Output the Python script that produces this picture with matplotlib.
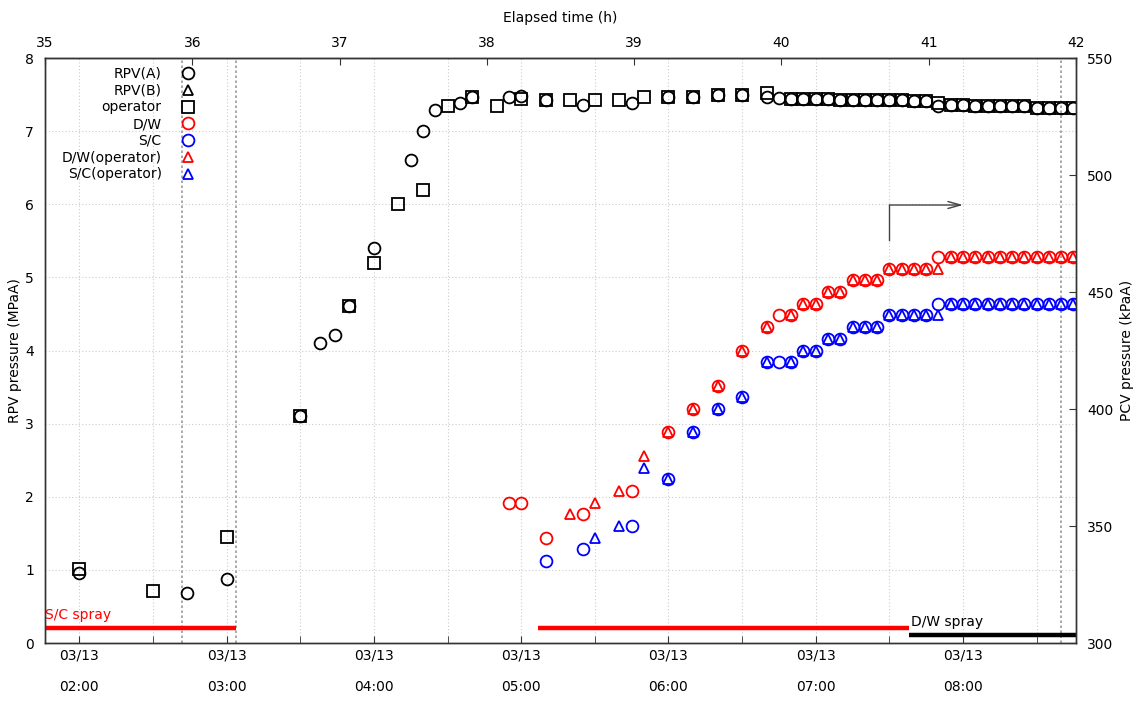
import matplotlib
matplotlib.use("Agg")
import matplotlib.pyplot as plt

plt.rcParams['font.family'] = ['DejaVu Sans']
plt.rcParams['font.size'] = 10

# elapsed hours at 03/13 00:00 (counted from 03/11 14:46)
OFFSET = 33 + 14 / 60


def hm(s):
    h, m = s.split(':')
    return int(h) + int(m) / 60


# 5-minute readings from 06:50 onwards (shared by all series)
late_times = ["06:50", "06:55", "07:00", "07:05", "07:10", "07:15", "07:20", "07:25",
              "07:30", "07:35", "07:40", "07:45", "07:50", "07:55", "08:00", "08:05",
              "08:10", "08:15", "08:20", "08:25", "08:30", "08:35", "08:40", "08:45"]

# RPV pressure (MPaA)
rpv_a_time = ["02:00", "02:44", "03:00", "03:30", "03:38", "03:44", "03:50", "04:00",
              "04:15", "04:20", "04:25", "04:35", "04:40", "04:55", "05:00", "05:10",
              "05:25", "05:45", "06:00", "06:10", "06:20", "06:30", "06:40", "06:45"] + late_times
rpv_a_mpa = [0.96, 0.69, 0.88, 3.10, 4.10, 4.21, 4.61, 5.40,
             6.60, 7.00, 7.29, 7.39, 7.47, 7.47, 7.48, 7.43,
             7.36, 7.39, 7.47, 7.47, 7.50, 7.49, 7.47, 7.45,
             7.44, 7.44, 7.44, 7.44, 7.43, 7.43, 7.43, 7.43,
             7.43, 7.43, 7.41, 7.41, 7.35, 7.36, 7.36, 7.34,
             7.34, 7.34, 7.34, 7.34, 7.31, 7.31, 7.31, 7.31]

rpv_b_time = []
rpv_b_mpa = []

operator_time = ["02:00", "02:30", "03:00", "03:30", "03:50", "04:00", "04:10", "04:20",
                 "04:30", "04:40", "04:50", "05:00", "05:10", "05:20", "05:30", "05:40",
                 "05:50", "06:00", "06:10", "06:20", "06:30", "06:40"] + late_times
operator_mpa = [1.01, 0.71, 1.45, 3.10, 4.61, 5.20, 6.00, 6.20,
                7.34, 7.47, 7.34, 7.44, 7.43, 7.42, 7.43, 7.43,
                7.47, 7.47, 7.47, 7.50, 7.49, 7.52,
                7.44, 7.44, 7.44, 7.44, 7.43, 7.43, 7.43, 7.43,
                7.42, 7.42, 7.41, 7.41, 7.38, 7.36, 7.36, 7.34,
                7.34, 7.34, 7.34, 7.34, 7.32, 7.32, 7.31, 7.31]

# PCV pressure (kPaA)
dw_time = ["04:55", "05:00", "05:10", "05:25", "05:45", "06:00", "06:10", "06:20",
           "06:30", "06:40", "06:45"] + late_times
dw_kpa = [360, 360, 345, 355, 365, 390, 400, 410, 425, 435, 440,
          440, 445, 445, 450, 450, 455, 455, 455, 460, 460, 460, 460,
          465, 465, 465, 465, 465, 465, 465, 465, 465, 465, 465, 465]

sc_time = ["05:10", "05:25", "05:45", "06:00", "06:10", "06:20", "06:30", "06:40",
           "06:45"] + late_times
sc_kpa = [335, 340, 350, 370, 390, 400, 405, 420, 420,
          420, 425, 425, 430, 430, 435, 435, 435, 440, 440, 440, 440,
          445, 445, 445, 445, 445, 445, 445, 445, 445, 445, 445, 445]

dw_op_time = ["05:20", "05:30", "05:40", "05:50", "06:00", "06:10", "06:20", "06:30",
              "06:40"] + late_times
dw_op_kpa = [355, 360, 365, 380, 390, 400, 410, 425, 435,
             440, 445, 445, 450, 450, 455, 455, 455, 460, 460, 460, 460,
             460, 465, 465, 465, 465, 465, 465, 465, 465, 465, 465, 465]

sc_op_time = ["05:30", "05:40", "05:50", "06:00", "06:10", "06:20", "06:30",
              "06:40"] + late_times
sc_op_kpa = [345, 350, 375, 370, 390, 400, 405, 420,
             420, 425, 425, 430, 430, 435, 435, 435, 440, 440, 440, 440,
             440, 445, 445, 445, 445, 445, 445, 445, 445, 445, 445, 445]

# spray periods and event markers
sc_spray = [("01:46", "03:04"), ("05:07", "07:38")]
dw_spray = ("07:38", "08:46")
event_times = ["02:42", "03:04", "08:40"]

clock_ticks = ["02:00", "03:00", "04:00", "05:00", "06:00", "07:00", "08:00"]
half_ticks = ["02:30", "03:30", "04:30", "05:30", "06:30", "07:30", "08:30"]
elapsed_ticks = [35, 36, 37, 38, 39, 40, 41, 42]


def tl(lst):
    return [hm(s) for s in lst]


fig = plt.figure(figsize=(11.37, 7.06), dpi=100)
ax = fig.add_axes([0.0396, 0.0892, 0.9067, 0.8286])
ax2 = ax.twinx()

kw = dict(linestyle='none', mfc='none', markersize=8.5, markeredgewidth=1.3)

h_a, = ax.plot(tl(rpv_a_time), rpv_a_mpa, marker='o', mec='black', label='RPV(A)', **kw)
h_b, = ax.plot(tl(rpv_b_time), rpv_b_mpa, marker='^', mec='black', label='RPV(B)',
               **dict(kw, markersize=7.5))
h_op, = ax.plot(tl(operator_time), operator_mpa, marker='s', mec='black', label='operator',
                **dict(kw, markersize=8))

h_dw, = ax2.plot(tl(dw_time), dw_kpa, marker='o', mec='red', label='D/W', **kw)
h_sc, = ax2.plot(tl(sc_time), sc_kpa, marker='o', mec='blue', label='S/C', **kw)
h_dwo, = ax2.plot(tl(dw_op_time), dw_op_kpa, marker='^', mec='red', label='D/W(operator)',
                  **dict(kw, markersize=7.5))
h_sco, = ax2.plot(tl(sc_op_time), sc_op_kpa, marker='^', mec='blue', label='S/C(operator)',
                  **dict(kw, markersize=7.5))

# spray bars
for a, b in sc_spray:
    ax.plot([hm(a), hm(b)], [0.2, 0.2], color='red', lw=3.2, solid_capstyle='butt')
ax.plot([hm(dw_spray[0]), hm(dw_spray[1])], [0.11, 0.11], color='black', lw=3.2,
        solid_capstyle='butt')
ax.text(hm(sc_spray[0][0]), 0.29, 'S/C spray', color='red', fontsize=10, ha='left', va='bottom')
ax.text(hm(dw_spray[0]) + 0.01, 0.19, 'D/W spray', color='black', fontsize=10, ha='left',
        va='bottom')

for t in event_times:
    ax.axvline(hm(t), color='#999999', lw=1.2, linestyle=(0, (1.5, 1.5)), zorder=1)

# arrow
ax.plot([hm("07:30"), hm("07:30")], [5.51, 5.99], color='#444444', lw=1)
ax.annotate('', xy=(hm("08:00"), 5.99), xytext=(hm("07:30"), 5.99),
            arrowprops=dict(arrowstyle='->,head_length=0.9,head_width=0.25',
                            color='#444444', lw=1, shrinkA=0, shrinkB=0))

x0 = 35 - OFFSET
x1 = 42 - OFFSET
ax.set_xlim(x0, x1)
ax.set_ylim(0, 8)
ax2.set_ylim(300, 550)

ax.set_xticks(tl(clock_ticks))
ax.set_xticklabels(['03/13\n' + s for s in clock_ticks])
ax.set_xticks(tl(half_ticks), minor=True)
for lab in ax.get_xticklabels():
    lab.set_linespacing(2.6)

ax.set_yticks(range(0, 9))
ax2.set_yticks(range(300, 551, 50))

ax.grid(True, which='both', axis='x', color='#cccccc', linestyle=(0, (1, 2)), lw=0.8)
ax.grid(True, which='major', axis='y', color='#cccccc', linestyle=(0, (1, 2)), lw=0.8)
ax.set_axisbelow(True)

ax.tick_params(axis='x', which='both', direction='in', length=5, pad=4, colors='#333333',
               labelcolor='black')
ax.tick_params(axis='y', direction='in', length=0, pad=8)
ax2.tick_params(axis='y', direction='in', length=5, pad=8, colors='#333333',
                labelcolor='black')

top = ax.secondary_xaxis('top', functions=(lambda t: t + OFFSET, lambda e: e - OFFSET))
top.set_xticks(elapsed_ticks)
top.tick_params(direction='in', length=5, pad=6, colors='#333333', labelcolor='black')
top.set_xlabel('Elapsed time (h)', labelpad=10)

ax.set_ylabel('RPV pressure (MPaA)', labelpad=2)
ax2.set_ylabel('PCV pressure (kPaA)', labelpad=5)

for a in (ax, ax2):
    for sp in a.spines.values():
        sp.set_color('#333333')
        sp.set_linewidth(1)

handles = [h_a, h_b, h_op, h_dw, h_sc, h_dwo, h_sco]
ax2.legend(handles=handles, labels=[h.get_label() for h in handles],
           loc='upper right', bbox_to_anchor=(0.1455, 0.985), frameon=False,
           markerfirst=False, handlelength=1.0, handletextpad=1.4, labelspacing=0.2,
           borderpad=0, borderaxespad=0, numpoints=1, fontsize=10)

fig.savefig('out.png', dpi=100)
